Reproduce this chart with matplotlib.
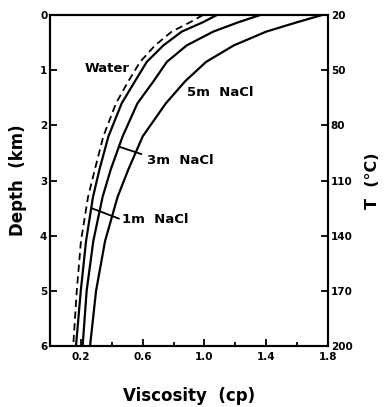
import matplotlib
matplotlib.use("Agg")
import matplotlib.pyplot as plt

# Data
depth_km = [0.0, 0.13, 0.3, 0.55, 0.85, 1.2, 1.6, 2.2, 2.8, 3.3, 4.1, 5.0, 6.0]
visc_water = [0.99, 0.907, 0.788, 0.68, 0.583, 0.507, 0.427, 0.345, 0.29, 0.246, 0.20, 0.173, 0.150]
visc_1m = [1.08, 0.99, 0.853, 0.734, 0.626, 0.55, 0.464, 0.378, 0.32, 0.278, 0.233, 0.199, 0.168]
visc_3m = [1.36, 1.22, 1.057, 0.885, 0.756, 0.67, 0.566, 0.47, 0.393, 0.34, 0.28, 0.237, 0.211]
visc_5m = [1.76, 1.60, 1.40, 1.19, 1.01, 0.875, 0.75, 0.60, 0.507, 0.437, 0.356, 0.298, 0.259]

x_major = [0.2, 0.6, 1.0, 1.4, 1.8]
x_minor = [0.4, 0.8, 1.2, 1.6]
depth_ticks = [0, 1, 2, 3, 4, 5, 6]
temp_ticks = [20, 50, 80, 110, 140, 170, 200]

plt.rcParams['font.family'] = ['DejaVu Sans']
plt.rcParams['font.weight'] = 'bold'

fig = plt.figure(figsize=(3.85, 4.07), dpi=100)
ax = fig.add_axes([0.130, 0.150, 0.722, 0.813])

lw = 1.6
ax.plot(visc_water, depth_km, color='black', lw=1.3, ls=(0, (4, 2.5)))
ax.plot(visc_1m, depth_km, color='black', lw=lw)
ax.plot(visc_3m, depth_km, color='black', lw=lw)
ax.plot(visc_5m, depth_km, color='black', lw=lw)

ax.set_xlim(0, 1.8)
ax.set_ylim(6, 0)
ax.set_xticks(x_major)
ax.set_xticks(x_minor, minor=True)
ax.set_xticklabels([f"{v:.1f}" for v in x_major])
ax.set_yticks(depth_ticks)
ax.set_yticklabels([str(d) for d in depth_ticks])

for s in ax.spines.values():
    s.set_linewidth(1.5)

ax.tick_params(axis='both', which='major', direction='in', length=5, width=1.3,
               labelsize=7.5, pad=3)
ax.tick_params(axis='x', which='minor', direction='in', length=3, width=1.3)
ax.tick_params(axis='x', which='major', pad=4)
ax.tick_params(axis='y', which='major', pad=2)

ax2 = ax.twinx()
ax2.set_ylim(200, 20)
ax2.set_yticks(temp_ticks)
ax2.set_yticklabels([str(t) for t in temp_ticks])
ax2.tick_params(axis='y', direction='in', length=5, width=1.3, labelsize=7.5, pad=2)
for s in ax2.spines.values():
    s.set_linewidth(1.5)

ax.set_xlabel("Viscosity  (cp)", fontsize=12, fontweight='bold', labelpad=18)
ax.set_ylabel("Depth  (km)", fontsize=12, fontweight='bold', labelpad=9)
ax2.set_ylabel("T  (°C)", fontsize=11.5, fontweight='bold', rotation=90, labelpad=9)

# Curve labels
fs = 9.5
ax.text(0.37, 0.96, "Water", fontsize=fs, fontweight='bold', ha='center', va='center')
ax.text(0.89, 1.41, "5m  NaCl", fontsize=fs, fontweight='bold', ha='left', va='center')
ax.text(0.63, 2.63, "3m  NaCl", fontsize=fs, fontweight='bold', ha='left', va='center')
ax.text(0.465, 3.71, "1m  NaCl", fontsize=fs, fontweight='bold', ha='left', va='center')

# Leader lines
ax.plot([0.446, 0.59], [2.386, 2.52], color='black', lw=1.3)
ax.plot([0.267, 0.445], [3.50, 3.69], color='black', lw=1.3)

fig.savefig("out.png", dpi=100)
